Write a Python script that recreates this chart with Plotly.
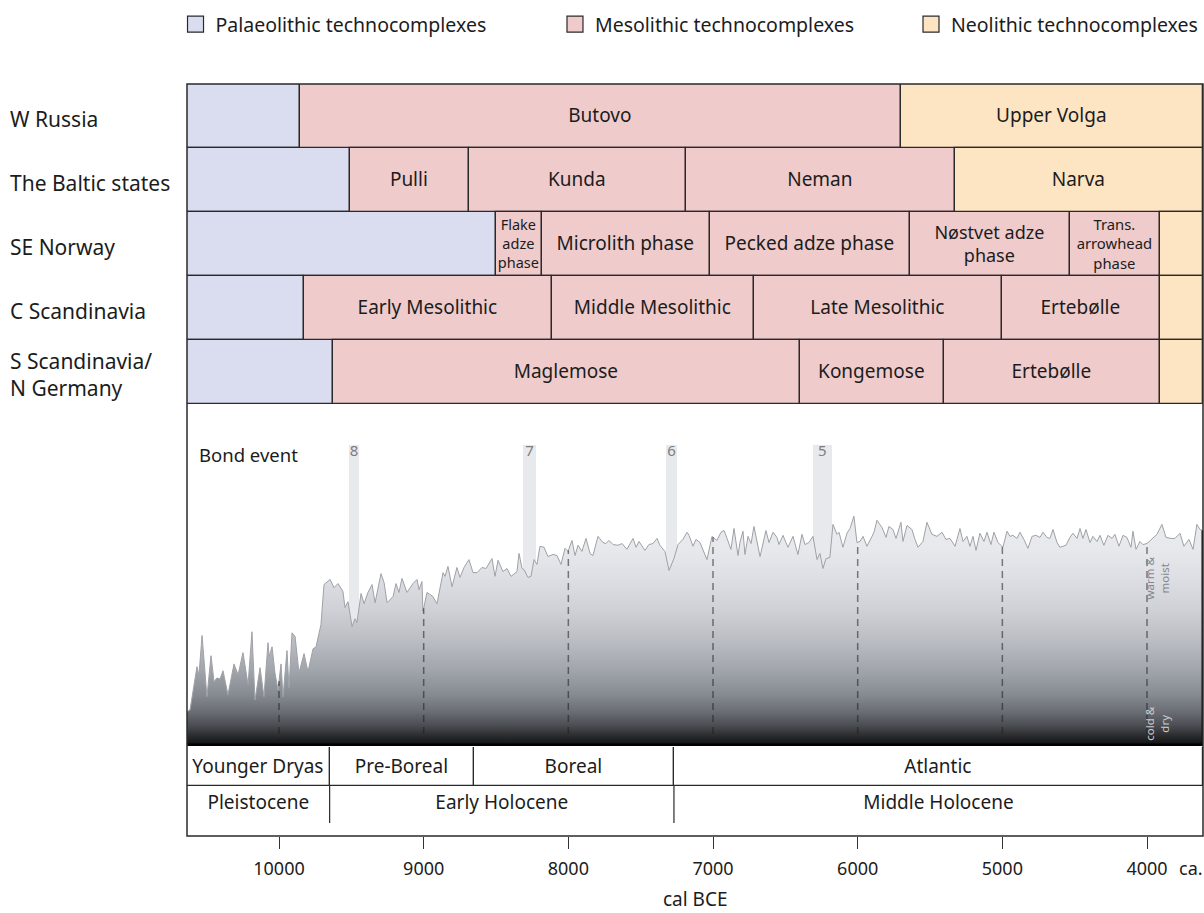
import numpy as np
import plotly.graph_objects as go

FONT = "Noto Sans"

# ---------------- data ----------------
X_OLD, X_YOUNG = 10636, 3613          # visible span of the time axis (cal BCE)
TICK_YEARS = [10000, 9000, 8000, 7000, 6000, 5000, 4000]
X_TITLE = "cal BCE"

REGIONS = ["W Russia", "The Baltic states", "SE Norway", "C Scandinavia",
           "S Scandinavia/<br>N Germany"]

W_RUSSIA_BOUNDS = [X_OLD, 9855, 5700, X_YOUNG]
W_RUSSIA_NAMES = ["", "Butovo", "Upper Volga"]
W_RUSSIA_TYPES = ["P", "M", "N"]

BALTIC_BOUNDS = [X_OLD, 9510, 8690, 7190, 5330, X_YOUNG]
BALTIC_NAMES = ["", "Pulli", "Kunda", "Neman", "Narva"]
BALTIC_TYPES = ["P", "M", "M", "M", "N"]

SE_NORWAY_BOUNDS = [X_OLD, 8500, 8180, 7020, 5640, 4530, 3910, X_YOUNG]
SE_NORWAY_NAMES = ["", "Flake<br>adze<br>phase", "Microlith phase", "Pecked adze phase",
                   "Nøstvet adze<br>phase", "Trans.<br>arrowhead<br>phase", ""]
SE_NORWAY_TYPES = ["P", "M", "M", "M", "M", "M", "N"]

C_SCAND_BOUNDS = [X_OLD, 9830, 8110, 6720, 5000, 3910, X_YOUNG]
C_SCAND_NAMES = ["", "Early Mesolithic", "Middle Mesolithic", "Late Mesolithic", "Ertebølle", ""]
C_SCAND_TYPES = ["P", "M", "M", "M", "M", "N"]

S_SCAND_BOUNDS = [X_OLD, 9630, 6400, 5400, 3910, X_YOUNG]
S_SCAND_NAMES = ["", "Maglemose", "Kongemose", "Ertebølle", ""]
S_SCAND_TYPES = ["P", "M", "M", "M", "N"]

TYPE_NAMES = {"P": "Palaeolithic technocomplexes",
              "M": "Mesolithic technocomplexes",
              "N": "Neolithic technocomplexes"}

STAGE_BOUNDS = [X_OLD, 9650, 8650, 7270, X_YOUNG]
STAGE_NAMES = ["Younger Dryas", "Pre-Boreal", "Boreal", "Atlantic"]
EPOCH_BOUNDS = [X_OLD, 9650, 7270, X_YOUNG]
EPOCH_NAMES = ["Pleistocene", "Early Holocene", "Middle Holocene"]

BOND_LABELS = ["8", "7", "6", "5"]
BOND_CENTER = [9481, 8268, 7287, 6244]
BOND_SPAN = [69, 90, 76, 131]

# climate proxy curve (relative units, 0 = cold & dry, 100 = top of panel)
CLIM_YEAR = [
    10636, 10615, 10567, 10553, 10532, 10498, 10470, 10449, 10429, 10408,
    10387, 10353, 10311, 10283, 10249, 10214, 10187, 10166, 10131, 10104,
    10076, 10069, 10048, 10028, 10007, 9986, 9972, 9945, 9931, 9910,
    9889, 9862, 9827, 9800, 9765, 9744, 9710, 9689, 9647, 9620,
    9592, 9558, 9544, 9523, 9495, 9475, 9461, 9433, 9412, 9385,
    9357, 9336, 9295, 9274, 9253, 9212, 9191, 9171, 9150, 9115,
    9074, 9046, 9032, 9012, 9005, 8977, 8936, 8908, 8866, 8853,
    8832, 8804, 8770, 8749, 8721, 8687, 8659, 8631, 8597, 8569,
    8528, 8507, 8486, 8452, 8424, 8396, 8355, 8341, 8320, 8307,
    8279, 8258, 8237, 8217, 8196, 8168, 8141, 8106, 8078, 8051,
    8023, 8002, 7975, 7954, 7933, 7906, 7878, 7850, 7830, 7795,
    7761, 7740, 7719, 7691, 7657, 7629, 7595, 7574, 7553, 7532,
    7512, 7470, 7443, 7415, 7387, 7367, 7332, 7304, 7270, 7242,
    7208, 7180, 7166, 7138, 7118, 7090, 7069, 7042, 7007, 6973,
    6945, 6924, 6903, 6876, 6855, 6827, 6814, 6793, 6779, 6758,
    6737, 6717, 6675, 6634, 6613, 6585, 6558, 6544, 6516, 6482,
    6447, 6413, 6385, 6364, 6337, 6309, 6281, 6261, 6240, 6219,
    6192, 6171, 6143, 6129, 6102, 6074, 6053, 6026, 6005, 5984,
    5963, 5936, 5901, 5887, 5867, 5832, 5804, 5784, 5756, 5735,
    5701, 5687, 5659, 5625, 5604, 5583, 5549, 5521, 5487, 5452,
    5417, 5390, 5362, 5327, 5293, 5272, 5245, 5224, 5203, 5182,
    5155, 5127, 5106, 5079, 5058, 5030, 4996, 4968, 4947, 4927,
    4899, 4878, 4851, 4823, 4795, 4768, 4740, 4719, 4692, 4671,
    4650, 4622, 4602, 4560, 4533, 4512, 4484, 4463, 4443, 4422,
    4394, 4374, 4346, 4325, 4298, 4270, 4242, 4222, 4194, 4166,
    4139, 4111, 4097, 4076, 4049, 4028, 4000, 3966, 3931, 3897,
    3869, 3834, 3807, 3772, 3745, 3710, 3682, 3655, 3634, 3613,
]
CLIM_VALUE = [
    10.0, 10.6, 23.2, 20.8, 32.3, 14.4, 26.4, 18.8, 19.9, 19.6,
    22.0, 15.0, 24.0, 20.8, 27.3, 17.9, 33.4, 13.5, 22.9, 14.4,
    30.2, 26.1, 29.0, 21.4, 16.4, 24.0, 14.4, 27.9, 17.0, 33.1,
    32.0, 21.4, 27.0, 21.7, 28.4, 29.0, 35.5, 47.2, 48.7, 46.3,
    47.5, 45.2, 40.5, 42.2, 34.9, 37.2, 36.1, 44.6, 41.6, 44.9,
    47.2, 41.9, 50.4, 47.8, 41.9, 43.7, 47.5, 44.9, 49.0, 44.9,
    47.5, 48.7, 45.7, 48.1, 39.3, 44.9, 43.7, 41.6, 50.7, 49.6,
    52.5, 46.6, 52.2, 49.3, 52.2, 54.5, 50.7, 50.7, 52.2, 51.9,
    54.8, 49.6, 54.3, 51.0, 51.9, 49.6, 51.0, 56.3, 51.9, 51.6,
    49.3, 49.6, 54.5, 53.1, 58.4, 58.1, 55.4, 56.0, 55.7, 53.1,
    57.8, 56.9, 60.1, 55.7, 58.7, 56.9, 60.7, 56.3, 55.7, 61.3,
    59.5, 59.2, 60.1, 58.9, 58.7, 59.2, 57.5, 58.9, 60.7, 58.1,
    59.8, 57.2, 58.9, 59.2, 60.7, 58.7, 56.9, 51.3, 54.8, 58.9,
    60.4, 62.5, 61.6, 58.4, 60.4, 59.5, 57.5, 54.5, 61.3, 60.1,
    62.5, 63.0, 60.7, 57.5, 63.6, 55.7, 59.5, 62.8, 56.0, 61.3,
    59.2, 64.2, 55.4, 63.0, 59.5, 62.5, 61.0, 58.9, 61.6, 58.1,
    61.3, 56.0, 61.9, 58.9, 59.5, 61.3, 54.5, 56.3, 51.9, 54.8,
    55.1, 64.8, 61.9, 62.5, 58.1, 62.2, 63.6, 67.2, 59.5, 59.8,
    61.3, 58.4, 61.3, 62.5, 66.0, 63.9, 61.0, 64.2, 63.3, 60.7,
    65.4, 59.8, 64.5, 63.3, 60.4, 58.1, 59.8, 65.4, 61.9, 61.3,
    62.5, 60.4, 60.7, 58.4, 63.6, 59.8, 61.3, 58.4, 61.3, 57.2,
    62.2, 59.8, 62.5, 58.9, 62.5, 59.5, 58.1, 62.8, 61.3, 61.6,
    60.7, 62.5, 60.4, 57.8, 61.3, 61.6, 61.0, 62.5, 61.0, 60.7,
    63.3, 59.5, 58.1, 58.7, 61.0, 62.2, 60.7, 63.6, 60.7, 63.3,
    59.5, 61.3, 59.8, 61.6, 58.7, 61.6, 60.7, 61.9, 58.4, 61.6,
    61.0, 58.1, 62.8, 57.5, 59.8, 58.9, 59.2, 60.4, 61.9, 64.8,
    61.0, 60.7, 60.7, 62.2, 58.4, 60.4, 57.5, 64.8, 63.3, 63.0,
]

# ---------------- styles ----------------
TYPE_COLORS = {"P": "#d9ddef", "M": "#efcbcb", "N": "#fde4c2"}
EDGE = "#2a2a2a"
TEXT = "#1c1c1c"
LABEL_SIZE = {"Flake<br>adze<br>phase": 14.5, "Trans.<br>arrowhead<br>phase": 14.8,
              "Nøstvet adze<br>phase": 18}
BAR_FONT = 19
BOND_TOP = 88

rows = [(W_RUSSIA_BOUNDS, W_RUSSIA_NAMES, W_RUSSIA_TYPES),
        (BALTIC_BOUNDS, BALTIC_NAMES, BALTIC_TYPES),
        (SE_NORWAY_BOUNDS, SE_NORWAY_NAMES, SE_NORWAY_TYPES),
        (C_SCAND_BOUNDS, C_SCAND_NAMES, C_SCAND_TYPES),
        (S_SCAND_BOUNDS, S_SCAND_NAMES, S_SCAND_TYPES)]

fig = go.Figure()

# technocomplex blocks
for t in ["P", "M", "N"]:
    ys, bases, lens, texts, sizes = [], [], [], [], []
    for r, (bounds, names, types) in enumerate(rows):
        for i, tp in enumerate(types):
            if tp != t:
                continue
            ys.append(r)
            bases.append(bounds[i])
            lens.append(bounds[i + 1] - bounds[i])
            texts.append(names[i])
            sizes.append(LABEL_SIZE.get(names[i], BAR_FONT))
    fig.add_trace(go.Bar(
        orientation="h", y=ys, x=lens, base=bases, width=1,
        marker=dict(color=TYPE_COLORS[t], line=dict(color=EDGE, width=1.3)),
        text=texts, textposition="inside", insidetextanchor="middle",
        textangle=0, constraintext="none",
        insidetextfont=dict(family=FONT, size=sizes, color=TEXT),
        xaxis="x", yaxis="y2", showlegend=False, hoverinfo="skip"))

# Bond event bands
fig.add_trace(go.Bar(
    x=BOND_CENTER, y=[BOND_TOP] * len(BOND_CENTER), width=BOND_SPAN,
    marker=dict(color="#e8e9ed", line=dict(width=0)),
    xaxis="x", yaxis="y", showlegend=False, hoverinfo="skip"))

# climate curve with vertical gradient
fig.add_trace(go.Scatter(
    x=CLIM_YEAR, y=CLIM_VALUE, mode="lines", fill="tozeroy",
    line=dict(color="#9fa1a6", width=1),
    fillgradient=dict(type="vertical", start=0, stop=100, colorscale=[
        [0.0, "#0e0e0e"], [0.03, "#2b2c2f"], [0.06, "#4a4d52"], [0.10, "#6a6e74"],
        [0.15, "#868a91"], [0.22, "#a0a4ab"], [0.30, "#b8bbc1"], [0.40, "#cfd1d6"],
        [0.50, "#dfe0e5"], [0.58, "#e8e9ed"], [1.0, "#eeeff2"]]),
    xaxis="x", yaxis="y", showlegend=False, hoverinfo="skip"))

# dashed millennium guides from the base up to the curve
dx, dy = [], []
for yr in TICK_YEARS:
    top = float(np.interp(yr, CLIM_YEAR[::-1], CLIM_VALUE[::-1]))
    dx += [yr, yr, None]
    dy += [0, top, None]
fig.add_trace(go.Scatter(
    x=dx, y=dy, mode="lines",
    line=dict(color="rgba(30,30,32,0.55)", width=1.5, dash="7px,5px"),
    xaxis="x", yaxis="y", showlegend=False, hoverinfo="skip"))

# right edge of the curve fill
fig.add_trace(go.Scatter(
    x=[CLIM_YEAR[-1], CLIM_YEAR[-1]], y=[0, CLIM_VALUE[-1]], mode="lines",
    line=dict(color="#111", width=3), xaxis="x", yaxis="y",
    showlegend=False, hoverinfo="skip"))

# Bond event numbers
fig.add_trace(go.Scatter(
    x=BOND_CENTER, y=[BOND_TOP - 2.2] * len(BOND_CENTER), mode="text",
    text=BOND_LABELS, textfont=dict(family=FONT, size=15, color="#7d7d80"),
    xaxis="x", yaxis="y", showlegend=False, hoverinfo="skip"))

# climate stages (row 1) and epochs (row 2)
fig.add_trace(go.Bar(
    orientation="h", y=[0.5] * len(STAGE_NAMES),
    x=[STAGE_BOUNDS[i + 1] - STAGE_BOUNDS[i] for i in range(len(STAGE_NAMES))],
    base=STAGE_BOUNDS[:-1], width=1,
    marker=dict(color="white", line=dict(color=EDGE, width=1.2)),
    text=STAGE_NAMES, textposition="inside", insidetextanchor="middle",
    textangle=0, constraintext="none",
    insidetextfont=dict(family=FONT, size=19, color=TEXT),
    xaxis="x", yaxis="y3", showlegend=False, hoverinfo="skip"))

ex = [(EPOCH_BOUNDS[i] + EPOCH_BOUNDS[i + 1]) / 2 for i in range(len(EPOCH_NAMES))]
fig.add_trace(go.Scatter(
    x=ex, y=[1.46] * len(ex), mode="text", text=EPOCH_NAMES,
    textfont=dict(family=FONT, size=19, color=TEXT),
    xaxis="x", yaxis="y3", showlegend=False, hoverinfo="skip"))
sx, sy = [], []
for b in EPOCH_BOUNDS[1:-1]:
    sx += [b, b, None]
    sy += [1, 1.95, None]
fig.add_trace(go.Scatter(
    x=sx, y=sy, mode="lines", line=dict(color=EDGE, width=1.2),
    xaxis="x", yaxis="y3", showlegend=False, hoverinfo="skip"))

# legend entries
legend_pos = {"P": ("legend", -0.0113), "M": ("legend2", 0.3622), "N": ("legend3", 0.7126)}
for t in ["P", "M", "N"]:
    fig.add_trace(go.Scatter(
        x=[None], y=[None], mode="markers", name=TYPE_NAMES[t],
        marker=dict(symbol="square", size=16, color=TYPE_COLORS[t],
                    line=dict(color=EDGE, width=1.2)),
        legend=legend_pos[t][0], showlegend=True, xaxis="x", yaxis="y"))

annotations = []
for r, name in enumerate(REGIONS):
    annotations.append(dict(text=name, xref="paper", x=-179 / 1016, xanchor="left",
                            yref="y2", y=r + 0.04, yanchor="middle", showarrow=False,
                            align="left", font=dict(family=FONT, size=21, color=TEXT)))
annotations += [
    dict(text="Bond event", xref="paper", x=10 / 1016, xanchor="left", yref="y", y=85.3,
         showarrow=False, font=dict(family=FONT, size=18.5, color=TEXT)),
    dict(text="warm &<br>moist", xref="paper", x=(1157 - 187) / 1016, xanchor="center",
         yref="y", y=49, yanchor="middle",
         textangle=-90, showarrow=False, font=dict(family=FONT, size=11.5, color="#858790")),
    dict(text="cold &<br>dry", xref="paper", x=(1157 - 187) / 1016, xanchor="center",
         yref="y", y=6.5, yanchor="middle",
         textangle=-90, showarrow=False, font=dict(family=FONT, size=11.5, color="#c9cacd")),
    dict(text="ca.", xref="paper", x=(1191 - 187) / 1016, xanchor="center",
         yref="paper", y=-(868 - 836) / 752, yanchor="middle",
         showarrow=False, font=dict(family=FONT, size=18, color=TEXT)),
    dict(text=X_TITLE, xref="paper", x=0.5, xanchor="center",
         yref="paper", y=-(899 - 836) / 752, yanchor="middle",
         showarrow=False, font=dict(family=FONT, size=19, color=TEXT)),
]

legend_common = dict(orientation="h", yanchor="middle", y=1 + (84 - 24.5) / 752,
                     xanchor="left", font=dict(family=FONT, size=19.5, color=TEXT),
                     bgcolor="rgba(0,0,0,0)", itemsizing="trace")

fig.update_layout(
    width=1204, height=913,
    margin=dict(l=187, r=1, t=84, b=77),
    paper_bgcolor="white", plot_bgcolor="white",
    barmode="overlay", bargap=0,
    font=dict(family=FONT, color=TEXT),
    showlegend=True,
    legend=dict(legend_common, x=legend_pos["P"][1]),
    legend2=dict(legend_common, x=legend_pos["M"][1]),
    legend3=dict(legend_common, x=legend_pos["N"][1]),
    xaxis=dict(range=[X_OLD, X_YOUNG], anchor="y3", tickvals=TICK_YEARS,
               ticktext=[str(v) for v in TICK_YEARS], ticks="outside", ticklen=12,
               tickwidth=1.2, tickcolor="#333", tickfont=dict(family=FONT, size=18, color=TEXT),
               ticklabelstandoff=4,
               showgrid=False, zeroline=False, showline=False, automargin=False),
    yaxis=dict(domain=[90 / 752, 432 / 752], range=[0, 100], visible=False, fixedrange=True),
    yaxis2=dict(domain=[432 / 752, 1], range=[4.5, -0.5], visible=False),
    yaxis3=dict(domain=[0, 89 / 752], range=[89 / 39, 0], visible=False),
    annotations=annotations,
    shapes=[
        dict(type="line", xref="paper", x0=0, x1=1, yref="y", y0=0, y1=0,
             line=dict(color="#000", width=5)),
        dict(type="rect", xref="paper", x0=0, x1=1, yref="paper", y0=0, y1=1,
             line=dict(color=EDGE, width=1.5)),
    ],
)

# the page is exactly the figure size: drop the default 8px body margin
fig.write_html("out.html", config={"displayModeBar": False},
               post_script="document.body.style.margin='0';document.body.style.overflow='hidden';")
